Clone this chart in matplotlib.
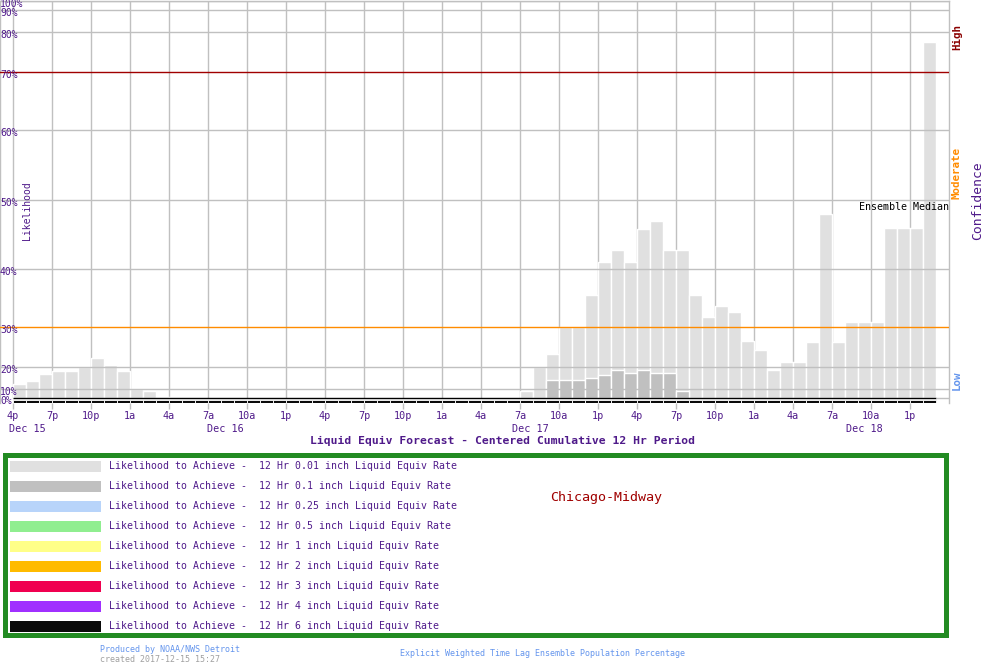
import numpy as np
import matplotlib
matplotlib.use("Agg")
import matplotlib.pyplot as plt
from matplotlib.patches import Rectangle
from matplotlib import transforms

# ---------------- data ----------------
hours = np.arange(71)  # hourly from 4p Dec 15
lik_001 = [12.1, 13.8, 17.0, 18.2, 18.3, 19.9, 22.3, 20.5, 18.3, 10.0, 8.1, 1.5, 1.5] + [0] * 26 + \
          [7.8, 19.9, 23.3, 30.0, 30.0, 35.5, 41.0, 42.8, 41.0, 45.8, 46.9, 42.8, 42.8, 35.5, 31.7,
           33.6, 32.6, 26.4, 24.3, 18.5, 21.3, 21.3, 26.3, 48.0, 26.3, 30.9, 30.9, 30.9, 45.9, 45.9,
           45.9, 77.4]
lik_01 = [0] * 41 + [13.9, 13.9, 13.9, 14.8, 16.4, 18.5, 17.1, 18.5, 17.1, 17.1, 8.1] + [0] * 19

tick_hours = list(range(0, 70, 3))
tick_labels = ["4p", "7p", "10p", "1a", "4a", "7a", "10a", "1p"] * 3
day_labels = ["Dec 15", "Dec 16", "Dec 17", "Dec 18"]
day_label_hours = [1.08, 16.35, 39.8, 65.5]

ytick_vals = [0, 10, 20, 30, 40, 50, 60, 70, 80, 90, 100]
ytick_labels = ["0%", "10%", "20%", "30%", "40%", "50%", "60%", "70%", "80%", "90%", "100%"]

legend_labels = [
    "Likelihood to Achieve -  12 Hr 0.01 inch Liquid Equiv Rate",
    "Likelihood to Achieve -  12 Hr 0.1 inch Liquid Equiv Rate",
    "Likelihood to Achieve -  12 Hr 0.25 inch Liquid Equiv Rate",
    "Likelihood to Achieve -  12 Hr 0.5 inch Liquid Equiv Rate",
    "Likelihood to Achieve -  12 Hr 1 inch Liquid Equiv Rate",
    "Likelihood to Achieve -  12 Hr 2 inch Liquid Equiv Rate",
    "Likelihood to Achieve -  12 Hr 3 inch Liquid Equiv Rate",
    "Likelihood to Achieve -  12 Hr 4 inch Liquid Equiv Rate",
    "Likelihood to Achieve -  12 Hr 6 inch Liquid Equiv Rate",
]
legend_colors = ["#e0e0e0", "#c0c0c0", "#b8d4fa", "#90ee90", "#ffff88",
                 "#ffbb00", "#f00050", "#a030ff", "#0a0a0a"]

# ---------------- styling ----------------
PURPLE = "#4f1a8a"
GRID = "#c0c0c0"
MONO = "DejaVu Sans Mono"
plt.rcParams["font.family"] = [MONO, "DejaVu Sans"]

W, H = 1000, 670
fig = plt.figure(figsize=(W / 100, H / 100), dpi=100)

def fx(px):
    return px / W

def fy(py):
    return 1 - py / H

# non-linear likelihood scale
scale_v = [-10, 0, 10, 20, 30, 40, 50, 60, 70, 80, 90, 100]
scale_p = [-9, 0, 9, 31, 71, 129, 198, 268, 326, 366, 388, 397]

def fwd(v):
    return np.interp(v, scale_v, scale_p)

def inv(p):
    return np.interp(p, scale_p, scale_v)

ax = fig.add_axes([fx(0), fy(403), fx(949), 402 / H])
ax.set_yscale("function", functions=(fwd, inv))
ax.set_xlim(-1, 72)
ax.set_ylim(inv(-5), 100)

# vertical grid (behind bars)
ax.vlines(tick_hours, 0, 100, colors=GRID, linewidth=1.0, zorder=0.5)

x = np.array(hours, dtype=float)
v1 = np.array(lik_001, dtype=float)
v2 = np.array(lik_01, dtype=float)
m1 = v1 > 0
m2 = v2 > 0
ax.bar(x[m1], v1[m1], width=1.0, align="edge", color=legend_colors[0],
       edgecolor="white", linewidth=1.0, zorder=1)
ax.bar(x[m2], v2[m2], width=1.0, align="edge", color=legend_colors[1],
       edgecolor="white", linewidth=1.0, zorder=1.5)

# horizontal grid (above bars)
for v in ytick_vals:
    if v == 0:
        continue
    c = GRID
    if v == 30:
        c = "#ff8c00"
    elif v == 70:
        c = "#a00000"
    ax.axhline(v, color=c, linewidth=1.0, zorder=3)

# bottom strip
ax.hlines(0, 0, 71, colors="black", linewidth=1.0, zorder=4)
ax.hlines(0, 71, 72, colors=GRID, linewidth=1.0, zorder=4)
ax.bar(x, np.full(len(x), inv(-2) - inv(-4.8)), bottom=inv(-4.8), width=1.0, align="edge",
       color=legend_colors[8], edgecolor="white", linewidth=0.6, zorder=4)

for s in ["left", "right", "top"]:
    ax.spines[s].set_color(GRID)
    ax.spines[s].set_linewidth(1.0)
ax.spines["bottom"].set_visible(False)

ax.set_yticks([])
ax.set_xticks(tick_hours)
ax.set_xticklabels(tick_labels, fontsize=7.3, color=PURPLE, family=MONO)
ax.tick_params(axis="x", length=4, width=1, color=GRID, pad=2.0)
ax.tick_params(axis="y", left=False, right=False)

# y labels inside plot
off = transforms.ScaledTranslation(0, 2 / 100, fig.dpi_scale_trans)
btr = transforms.blended_transform_factory(ax.transAxes, ax.transData)
for v, lab in zip(ytick_vals, ytick_labels):
    ax.text(0.0, v, lab, transform=btr + off, ha="left", va="top",
            fontsize=7.0, color=PURPLE, family=MONO, zorder=6)

# day labels
dtr = transforms.blended_transform_factory(ax.transData, fig.transFigure)
for h, lab in zip(day_label_hours, day_labels):
    ax.text(h, fy(429), lab, transform=dtr, ha="center", va="center",
            fontsize=7.3, color=PURPLE, family=MONO)

# side labels
fig.text(fx(27), fy(211), "Likelihood", rotation=90, ha="center", va="center",
         fontsize=7.0, color=PURPLE, family=MONO)
fig.text(fx(957), fy(37), "High", rotation=90, ha="center", va="center",
         fontsize=7.8, color="#8b0000", family=MONO, fontweight="bold")
fig.text(fx(957), fy(173), "Moderate", rotation=90, ha="center", va="center",
         fontsize=7.8, color="#ff8c00", family=MONO, fontweight="bold")
fig.text(fx(957), fy(380), "Low", rotation=90, ha="center", va="center",
         fontsize=7.8, color="#6495ed", family=MONO, fontweight="bold")
fig.text(fx(978), fy(201), "Confidence", rotation=90, ha="center", va="center",
         fontsize=9.4, color=PURPLE, family=MONO)
fig.text(fx(859), fy(207), "Ensemble Median", ha="left", va="center",
         fontsize=7.2, color="black", family=MONO)

# title
fig.text(fx(502), fy(441), "Liquid Equiv Forecast - Centered Cumulative 12 Hr Period",
         ha="center", va="center", fontsize=8.2, color=PURPLE, family=MONO, fontweight="bold")

# legend box
fig.patches.append(Rectangle((fx(4.5), fy(634.5)), fx(941), 180 / H, transform=fig.transFigure,
                             fill=False, edgecolor="#228b22", linewidth=3.6))
for i, (lab, col) in enumerate(zip(legend_labels, legend_colors)):
    yc = 466 + 20 * i
    fig.patches.append(Rectangle((fx(10), fy(yc + 5.5)), fx(91), 11 / H,
                                 transform=fig.transFigure, facecolor=col, edgecolor="none"))
    fig.text(fx(109), fy(yc), lab, ha="left", va="center", fontsize=7.1,
             color=PURPLE, family=MONO)

fig.text(fx(606), fy(498), "Chicago-Midway", ha="center", va="center",
         fontsize=9.6, color="#a00000", family=MONO)

# footer
fig.text(fx(100), fy(649), "Produced by NOAA/NWS Detroit", ha="left", va="center",
         fontsize=6.0, color="#6495ed", family=MONO)
fig.text(fx(100), fy(659), "created 2017-12-15 15:27", ha="left", va="center",
         fontsize=6.0, color="#a0a0a0", family=MONO)
fig.text(fx(400), fy(654), "Explicit Weighted Time Lag Ensemble Population Percentage",
         ha="left", va="center", fontsize=6.0, color="#6495ed", family=MONO)

fig.savefig("out.png", dpi=100)
